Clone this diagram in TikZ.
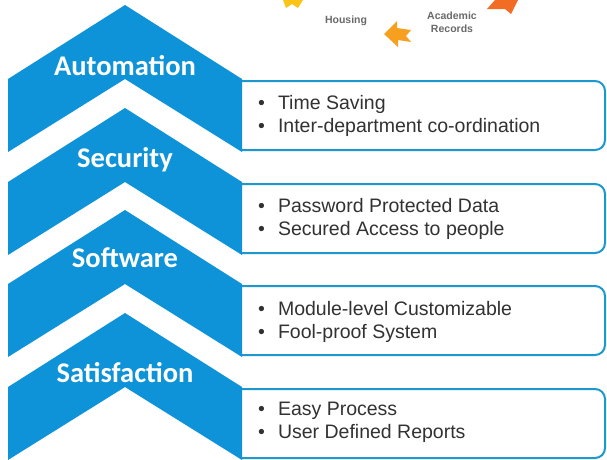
\documentclass[tikz,border=0pt]{standalone}
\usepackage{fontspec}
\setmainfont{Liberation Sans}
\newfontfamily\headfont{Carlito}
\usepackage{tikz}
\usetikzlibrary{positioning}
\definecolor{myblue}{RGB}{14,146,216}
\definecolor{myframe}{RGB}{28,152,206}
\definecolor{mytext}{RGB}{50,50,50}
\definecolor{mygray}{RGB}{105,105,105}
\definecolor{myorange}{RGB}{247,160,32}
\definecolor{myred}{RGB}{242,108,36}
\definecolor{myyellow}{RGB}{251,196,22}

\begin{document}
\begin{tikzpicture}[x=1pt,y=-1pt,
  chevron/.style={fill=myblue},
  framebox/.style={draw=myframe,line width=2pt,fill=white,rounded corners=10pt},
  title/.style={text=white,anchor=base,inner sep=0pt,
    font=\headfont\bfseries\fontsize{28.5}{30}\selectfont},
  items/.style={text=mytext,anchor=west,align=left,inner sep=0pt,
    font=\fontsize{19.5}{23}\selectfont},
  tag/.style={text=mygray,align=center,inner sep=0pt,
    font=\bfseries\fontsize{10.5}{13}\selectfont}
]
\useasboundingbox (0,0) rectangle (607,459);

% the boxes on the right
\begin{scope}
\clip (241,0) rectangle (607,459);
\foreach \a in {5,108,210,313}
  \draw[framebox] (200,\a+76) rectangle (605,\a+145);
\end{scope}

% the chevrons
\foreach \a in {5,108,210,313}
  \fill[chevron] (125,\a) -- (242,\a+74) -- (242,\a+147) -- (125,\a+74)
    -- (8,\a+147) -- (8,\a+74) -- cycle;

% the chevron titles
\node[title] (automation) at (125,75) {Automation};
\node[title] (security) at (125,167) {Security};
\node[title] (software) at (125,267) {Software};
\node[title] (satisfaction) at (125,382) {Satisfaction};

% the items
\node[items] (items1) at (258,116) {\textbullet\hspace{13pt}Time Saving\\
  \textbullet\hspace{13pt}Inter-department co-ordination};
\node[items] (items2) at (258,219) {\textbullet\hspace{13pt}Password Protected Data\\
  \textbullet\hspace{13pt}Secured Access to people};
\node[items] (items3) at (258,322) {\textbullet\hspace{13pt}Module-level Customizable\\
  \textbullet\hspace{13pt}Fool-proof System};
\node[items] (items4) at (258,422) {\textbullet\hspace{13pt}Easy Process\\
  \textbullet\hspace{13pt}User Defined Reports};

% the cut-off graphic at the top
\fill[myyellow] (283,0) -- (303,0) -- (298,8) -- (292,4) -- (286,8) -- cycle;
\fill[myorange] (384,34) -- (397,21) -- (397,28) -- (411,30) -- (406,36)
  -- (411,42) -- (398,40) -- (398,47) -- cycle;
\fill[myred] (487,9) -- (495,0) -- (518,0) -- (511,14) -- (505,9) -- cycle;
\node[tag] (housing) at (346,21) {Housing};
\node[tag] (records) at (452,22) {Academic\\Records};
\end{tikzpicture}
\end{document}
